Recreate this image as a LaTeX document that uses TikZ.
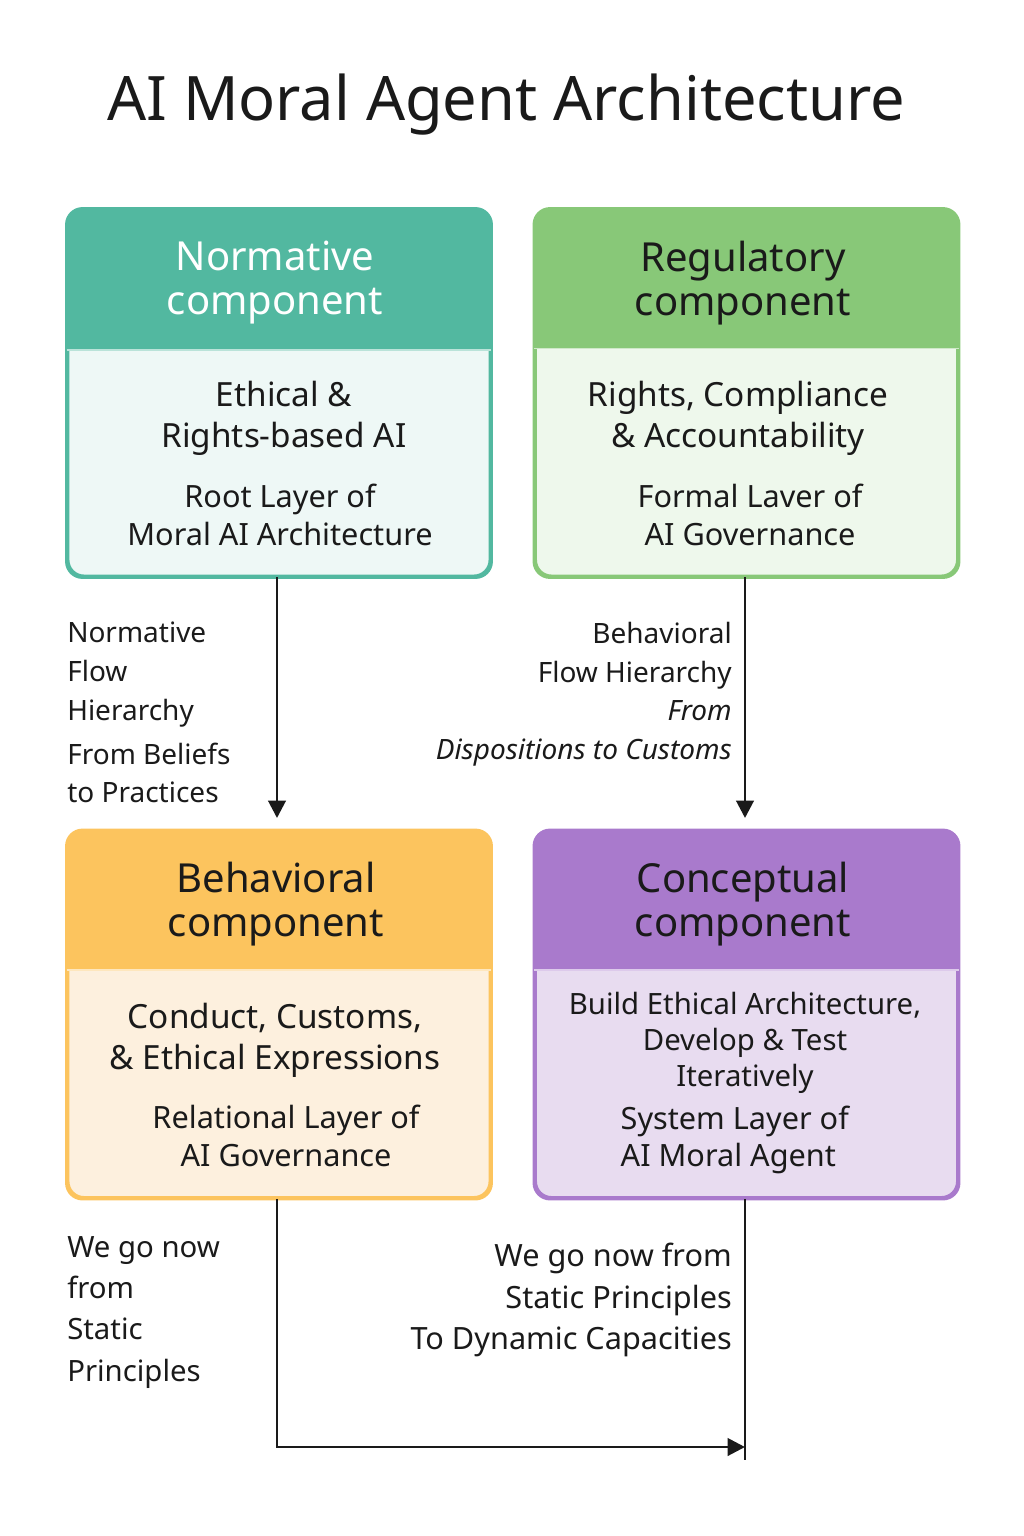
\documentclass[tikz,border=0pt]{standalone}
\usepackage{fontspec}
\setmainfont{Noto Sans}
\usetikzlibrary{arrows.meta}
\definecolor{tealH}{HTML}{52B8A0}\definecolor{tealB}{HTML}{EEF8F6}
\definecolor{grnH}{HTML}{88C878}\definecolor{grnB}{HTML}{EEF8EC}
\definecolor{yelH}{HTML}{FCC45E}\definecolor{yelB}{HTML}{FDF0DE}
\definecolor{purH}{HTML}{A97ACC}\definecolor{purB}{HTML}{E8DCF0}
\definecolor{ink}{HTML}{1A1A1A}
\tikzset{
 box/.style={draw=#1, line width=2.2pt, rounded corners=12pt, minimum width=316.5pt, minimum height=274.5pt, inner sep=0pt},
 hdr/.style={font=\bfseries\fontsize{30}{33}\selectfont, align=center, text width=300pt},
 ttl/.style={font=\bfseries\fontsize{25}{31}\selectfont, align=center, text=ink},
 sub/.style={font=\fontsize{23}{28}\selectfont, align=center, text=ink},
 lab/.style={font=\fontsize{21}{29}\selectfont, text=ink, inner sep=0pt},
 arr/.style={line width=2.2pt, draw=ink, -{Triangle[length=13pt,width=13pt]}}
}
\begin{document}
\begin{tikzpicture}[x=0.75pt,y=-0.75pt]
\useasboundingbox (0,0) rectangle (1024,1536);
\node[font=\fontsize{46}{50}\selectfont, text=ink] (title) at (506,105) {AI Moral Agent Architecture};
% boxes
\newcommand{\mybox}[6]{%
 \node[box=#3, fill=#4] (#1) at (#2) {};
 \begin{scope}
 \clip[rounded corners=12pt] (#1.north west) rectangle (#1.south east);
 \fill[#3] (#1.north west) rectangle ([yshift=-#5]#1.north east);
 \end{scope}
 \draw[#3, line width=2.2pt, rounded corners=12pt] (#1.north west) rectangle (#1.south east);
 \draw[#6!40!white, line width=1pt] ([yshift=-#5]#1.north west) -- ([yshift=-#5]#1.north east);}
\mybox{norm}{279,393}{tealH}{tealB}{106pt}{tealH}
\mybox{reg}{746.5,393}{grnH}{grnB}{105pt}{grnH}
\mybox{beh}{279,1014.5}{yelH}{yelB}{105pt}{yelH}
\mybox{con}{746.5,1014.5}{purH}{purB}{105pt}{purH}
% texts
\node[hdr, text=white] (nh) at (275,283) {Normative\\component};
\node[ttl] (nt) at (284,418) {Ethical \&\\Rights-based AI};
\node[sub] (ns) at (280,515) {Root Layer of\\Moral AI Architecture};
\node[hdr, text=ink] (rh) at (743,283) {Regulatory\\component};
\node[ttl] (rt) at (738,418) {Rights, Compliance\\\& Accountability};
\node[sub] (rs) at (750,515) {Formal Laver of\\AI Governance};
\node[hdr, text=ink] (bh) at (276,904) {Behavioral\\component};
\node[ttl] (bt) at (275,1040) {Conduct, Customs,\\\& Ethical Expressions};
\node[sub] (bs) at (286,1136) {Relational Layer of\\AI Governance};
\node[hdr, text=ink] (ch) at (743,904) {Conceptual\\component};
\node[font=\bfseries\fontsize{22}{27}\selectfont, align=center, text=ink] (ct) at (745,1043) {Build Ethical Architecture,\\Develop \& Test\\Iteratively};
\node[sub, align=left, anchor=west] (cs) at (616,1140) {System Layer of\\AI Moral Agent};
% arrows
\draw[arr] (norm.south -| 277,0) -- (277,818);
\draw[arr] (reg.south -| 745,0) -- (745,818);
\coordinate (c1) at (277,1447);
\coordinate (c2) at (745,1447);
\coordinate (c3) at (745,1460);
\draw[line width=2.2pt, ink] (beh.south -| 277,0) -- (c1) -- (706,1447);
\draw[line width=2.2pt, ink] (con.south -| 745,0) -- (c3);
\draw[arr] (700,1447) -- (c2);
% labels
\node[lab, anchor=north west, align=left] (l1) at (67,622) {\textbf{Normative}\\\textbf{Flow}\\\textbf{Hierarchy}\\[4pt]From Beliefs\\to Practices};
\node[lab, anchor=north east, align=right] (l2) at (732,622) {\textbf{Behavioral}\\\textbf{Flow Hierarchy}\\\textit{From}\\\textit{Dispositions to Customs}};
\node[lab, anchor=north west, align=left, font=\fontsize{22}{31}\selectfont] (l3) at (67,1236) {\textbf{We go now}\\\textbf{from}\\Static\\Principles};
\node[lab, anchor=north east, align=right, font=\fontsize{23}{31}\selectfont] (l4) at (732,1243) {We go now from\\Static Principles\\To Dynamic Capacities};
\end{tikzpicture}
\end{document}
